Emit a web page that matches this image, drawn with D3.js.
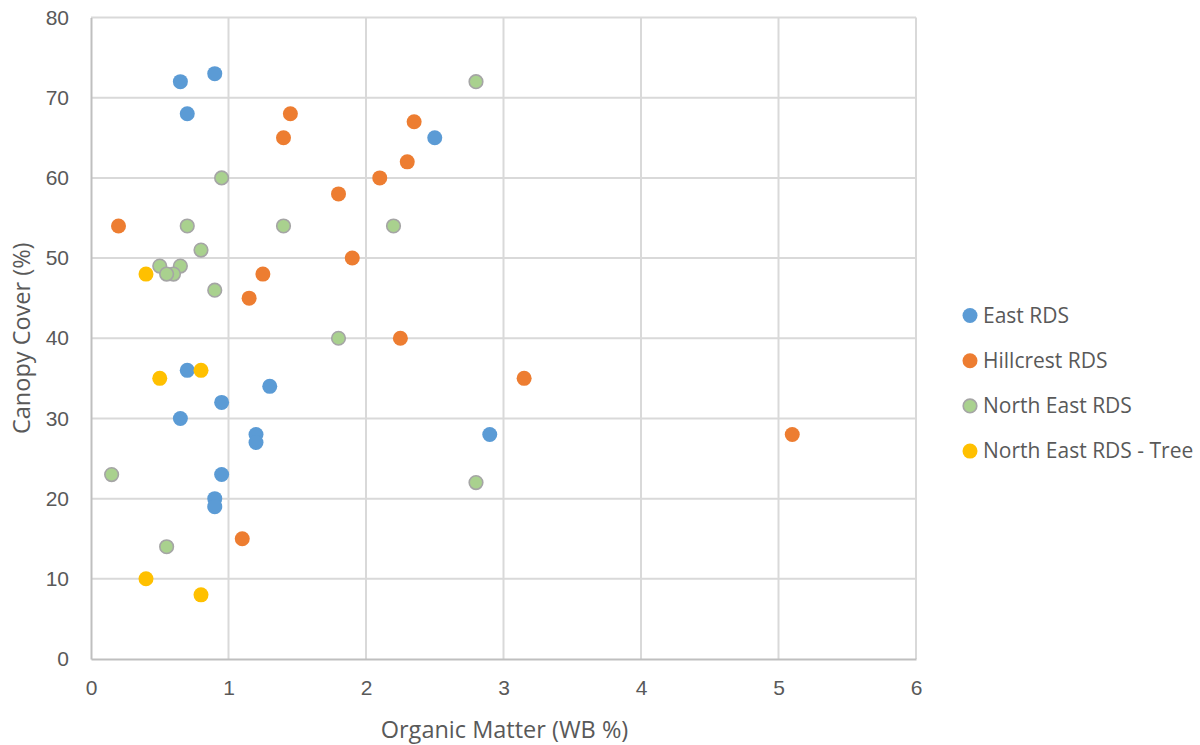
<!DOCTYPE html>
<html>
<head>
<meta charset="utf-8">
<script src="https://cdn.jsdelivr.net/npm/d3@7"></script>
<style>
  html, body { margin: 0; padding: 0; background: #fff; }
  svg { display: block; font-family: "Open Sans", "Noto Sans", sans-serif; }
</style>
</head>
<body>
<svg id="chart" width="1200" height="745"></svg>
<script>
// Organic matter (x) vs canopy cover (y) per site
const eastRDS = [
  [0.65, 72], [0.9, 73], [0.7, 68], [2.5, 65], [0.7, 36], [1.3, 34], [0.95, 32],
  [0.65, 30], [1.2, 28], [1.2, 27], [2.9, 28], [0.95, 23], [0.9, 20], [0.9, 19]
];
const hillcrestRDS = [
  [0.2, 54], [1.45, 68], [1.4, 65], [2.35, 67], [2.3, 62], [2.1, 60], [1.8, 58],
  [1.9, 50], [1.25, 48], [1.15, 45], [2.25, 40], [3.15, 35], [5.1, 28], [1.1, 15]
];
const northEastRDS = [
  [2.8, 72], [0.95, 60], [0.7, 54], [1.4, 54], [2.2, 54], [0.8, 51], [0.5, 49],
  [0.65, 49], [0.6, 48], [0.55, 48], [0.9, 46], [1.8, 40], [0.15, 23], [2.8, 22], [0.55, 14]
];
const northEastRDSTree = [
  [0.4, 48], [0.5, 35], [0.8, 36], [0.4, 10], [0.8, 8]
];

const seriesNames = ["East RDS", "Hillcrest RDS", "North East RDS", "North East RDS - Tree"];
const xTicks = [0, 1, 2, 3, 4, 5, 6];
const yTicks = [0, 10, 20, 30, 40, 50, 60, 70, 80];

const series = [
  { name: seriesNames[0], values: eastRDS,          fill: "#5B9BD5", stroke: "none" },
  { name: seriesNames[1], values: hillcrestRDS,     fill: "#ED7D31", stroke: "none" },
  { name: seriesNames[2], values: northEastRDS,     fill: "#A9D18E", stroke: "#A5A5A5" },
  { name: seriesNames[3], values: northEastRDSTree, fill: "#FFC000", stroke: "none" }
];

const svg = d3.select("#chart");
const plot = { left: 91, right: 916, top: 17.5, bottom: 659 };

const x = d3.scaleLinear().domain([0, 6]).range([plot.left, plot.right]);
const y = d3.scaleLinear().domain([0, 80]).range([plot.bottom, plot.top]);

const textColor = "#595959";

// Gridlines
const grid = svg.append("g");
grid.selectAll("line.v").data(xTicks.filter(d => d > 0)).join("line")
  .attr("x1", d => x(d)).attr("x2", d => x(d))
  .attr("y1", plot.top).attr("y2", plot.bottom)
  .attr("stroke", "#D9D9D9").attr("stroke-width", 2);
grid.selectAll("line.h").data(yTicks.filter(d => d > 0)).join("line")
  .attr("x1", plot.left).attr("x2", plot.right)
  .attr("y1", d => y(d)).attr("y2", d => y(d))
  .attr("stroke", "#D9D9D9").attr("stroke-width", 2);

// Axes (no tick marks, just the baseline and labels)
const xAxis = svg.append("g")
  .attr("transform", `translate(0,${plot.bottom})`)
  .call(d3.axisBottom(x).tickValues(xTicks).tickSize(0).tickPadding(21).tickFormat(d3.format("d")));
xAxis.select(".domain").attr("stroke", "#BFBFBF").attr("stroke-width", 2);
xAxis.selectAll("text").attr("fill", textColor).style("font-size", "21px");

const yAxis = svg.append("g")
  .attr("transform", `translate(${plot.left},0)`)
  .call(d3.axisLeft(y).tickValues(yTicks).tickSize(0).tickPadding(22).tickFormat(d3.format("d")));
yAxis.select(".domain").attr("stroke", "#BFBFBF").attr("stroke-width", 2);
yAxis.selectAll("text").attr("fill", textColor).style("font-size", "21px");

// Axis titles
svg.append("text")
  .attr("x", (plot.left + plot.right) / 2 + 1).attr("y", 738)
  .attr("text-anchor", "middle").attr("fill", textColor)
  .style("font-size", "23.5px")
  .text("Organic Matter (WB %)");

svg.append("text")
  .attr("transform", `translate(30,${(plot.top + plot.bottom) / 2}) rotate(-90)`)
  .attr("text-anchor", "middle").attr("fill", textColor)
  .style("font-size", "23.5px")
  .text("Canopy Cover (%)");

// Points
series.forEach(s => {
  svg.append("g").selectAll("circle").data(s.values).join("circle")
    .attr("cx", d => x(d[0])).attr("cy", d => y(d[1]))
    .attr("r", s.stroke === "none" ? 7.5 : 6.8)
    .attr("fill", s.fill)
    .attr("stroke", s.stroke)
    .attr("stroke-width", s.stroke === "none" ? 0 : 1.6);
});

// Legend
const legend = svg.append("g");
const rows = legend.selectAll("g").data(series).join("g")
  .attr("transform", (d, i) => `translate(970,${315.5 + i * 45.2})`);
rows.append("circle")
  .attr("r", d => d.stroke === "none" ? 7.5 : 6.8)
  .attr("fill", d => d.fill)
  .attr("stroke", d => d.stroke)
  .attr("stroke-width", d => d.stroke === "none" ? 0 : 1.6);
rows.append("text")
  .attr("x", 13).attr("dy", "0.35em")
  .attr("fill", textColor)
  .style("font-size", "21px")
  .text(d => d.name);
</script>
</body>
</html>
